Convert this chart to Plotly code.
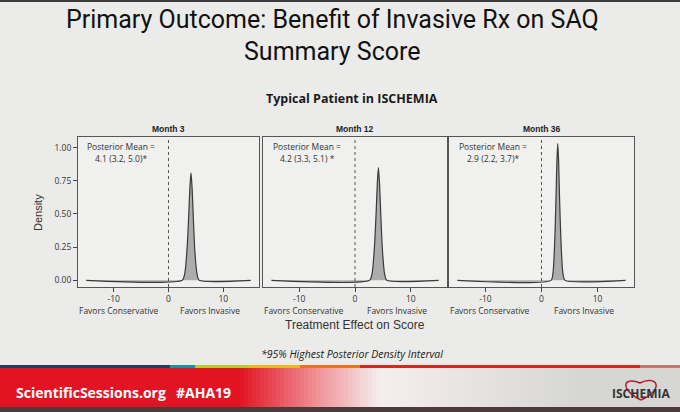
import plotly.graph_objects as go

# ---------------- data ----------------
panel_titles = ["Month 3", "Month 12", "Month 36"]
mean_labels = ["4.1 (3.2, 5.0)*", "4.2 (3.3, 5.1) *", "2.9 (2.2, 3.7)*"]

x_m3 = [-15, 2.5, 3.0, 3.4, 3.7, 3.9, 4.1, 4.3, 4.5, 4.8, 5.2, 5.6, 15]
d_m3 = [0, 0, 0.06, 0.25, 0.50, 0.70, 0.81, 0.70, 0.50, 0.22, 0.05, 0, 0]

x_m12 = [-15, 2.6, 3.1, 3.5, 3.8, 4.0, 4.2, 4.4, 4.6, 4.9, 5.3, 5.7, 15]
d_m12 = [0, 0, 0.06, 0.26, 0.52, 0.73, 0.85, 0.73, 0.52, 0.24, 0.05, 0, 0]

x_m36 = [-15, 1.7, 2.1, 2.4, 2.6, 2.75, 2.9, 3.05, 3.2, 3.45, 3.8, 4.2, 15]
d_m36 = [0, 0, 0.08, 0.34, 0.65, 0.90, 1.03, 0.90, 0.65, 0.32, 0.06, 0, 0]

x_ticks = [-10, 0, 10]
y_ticks = [0.0, 0.25, 0.5, 0.75, 1.0]
y_tick_labels = ["0.00", "0.25", "0.50", "0.75", "1.00"]

series = [(x_m3, d_m3), (x_m12, d_m12), (x_m36, d_m36)]

# ---------------- layout helpers ----------------
W, H = 680, 412
def px(x):
    return x / W
def py(y):
    return 1 - y / H

x_domains = [[px(78), px(259)], [px(263), px(447)], [px(449), px(634)]]
y_domain = [py(287), py(137)]

fig = go.Figure()
BG = "#ebebe9"
PLOT_BG = "#f0f0ee"
FONT_A = "Liberation Sans, Arial, sans-serif"
FONT_C = "Open Sans, Noto Sans, sans-serif"

def note(x, y, text, font, xref="paper", **kw):
    fig.add_annotation(x=x, y=y, xref=xref, yref="paper", text=text, showarrow=False,
                       xanchor=kw.pop("xanchor", "center"), yanchor="middle", font=font, **kw)

for i, (xs, ys) in enumerate(series):
    sfx = "" if i == 0 else str(i + 1)
    fig.add_trace(go.Scatter(
        x=xs, y=ys, mode="lines", line=dict(color="#3a3a3a", width=1.2, shape="spline", smoothing=0.6),
        fill="tozeroy", fillcolor="rgba(150,150,150,0.75)",
        xaxis="x" + sfx, yaxis="y" + sfx, showlegend=False, hoverinfo="skip"))
    fig.update_layout(**{
        "xaxis" + sfx: dict(domain=x_domains[i], range=[-16.5, 16.5], tickvals=x_ticks,
                           ticktext=[str(v) for v in x_ticks], ticks="outside", ticklen=4,
                           tickcolor="#444", showline=True, linecolor="#555", linewidth=1,
                           mirror=True, showgrid=False, zeroline=False,
                           tickfont=dict(family=FONT_C, size=8.5, color="#333"),
                           anchor="y" + sfx),
        "yaxis" + sfx: dict(domain=y_domain, range=[-0.05, 1.08], tickvals=y_ticks,
                           ticktext=y_tick_labels, ticks="outside" if i == 0 else "",
                           ticklen=4, tickcolor="#444", showticklabels=(i == 0),
                           showline=True, linecolor="#555", linewidth=1, mirror=True,
                           showgrid=False, zeroline=False,
                           tickfont=dict(family=FONT_C, size=8.5, color="#333"),
                           anchor="x" + sfx),
    })
    xr = "x" + sfx
    fig.add_shape(type="line", xref=xr, yref="paper", x0=0, x1=0,
                  y0=y_domain[0], y1=y_domain[1],
                  line=dict(color="#555", width=1, dash="dot"))
    note(sum(x_domains[i]) / 2, py(129), "<b>" + panel_titles[i] + "</b>",
         dict(family=FONT_A, size=8.5, color="#222"))
    note(-8.6, py(147), "Posterior Mean =", dict(family=FONT_C, size=8.5, color="#333"), xref=xr)
    note(-8.6, py(159), mean_labels[i], dict(family=FONT_C, size=8.5, color="#333"), xref=xr)
    note(-9.1, py(310), "Favors Conservative", dict(family=FONT_C, size=8.5, color="#333"), xref=xr)
    note(7.5, py(310), "Favors Invasive", dict(family=FONT_C, size=8.5, color="#333"), xref=xr)

for i in range(3):
    fig.add_shape(type="rect", xref="paper", yref="paper", x0=x_domains[i][0], x1=x_domains[i][1],
                  y0=y_domain[0], y1=y_domain[1], fillcolor=PLOT_BG, line=dict(width=0), layer="below")

note(px(38), py(213), "Density", dict(family=FONT_A, size=11, color="#333"), textangle=-90)
note(px(355), py(325), "Treatment Effect on Score", dict(family=FONT_A, size=12, color="#333"))

TFONT = dict(family="Roboto, sans-serif", size=25, color="#111")
note(px(332), py(20), "Primary Outcome: Benefit of Invasive Rx on SAQ", TFONT)
note(px(332), py(52), "Summary Score", TFONT)
note(px(352), py(98), "<b>Typical Patient in ISCHEMIA</b>", dict(family=FONT_C, size=12.5, color="#1a1a1a"))
note(px(352), py(354), "<i>*95% Highest Posterior Density Interval</i>",
     dict(family=FONT_C, size=10.5, color="#222"))

# top dark edge
fig.add_shape(type="rect", xref="paper", yref="paper", x0=0, x1=1, y0=py(2), y1=1,
              fillcolor="#3a3a3a", line=dict(width=0), layer="below")

# footer banner: gradient red -> white -> light gray
def lerp(c1, c2, t):
    return tuple(int(round(a + (b - a) * t)) for a, b in zip(c1, c2))
red = (226, 20, 35)
pink = (240, 150, 155)
white = (245, 238, 238)
gray = (214, 214, 212)
N = 170
for k in range(N):
    x0 = k * W / N
    xc = x0 + W / N / 2
    if xc < 240:
        c = red
    elif xc < 320:
        c = lerp(red, pink, (xc - 240) / 80)
    elif xc < 380:
        c = lerp(pink, white, (xc - 320) / 60)
    else:
        c = lerp(white, gray, min(1, (xc - 380) / 200))
    fig.add_shape(type="rect", xref="paper", yref="paper", x0=px(x0), x1=px(x0 + W / N + 0.5),
                  y0=py(407), y1=py(368), fillcolor="rgb(%d,%d,%d)" % c, line=dict(width=0), layer="below")
strip = [(0, 170, (40, 60, 90)), (170, 195, (40, 140, 150)), (195, 250, (190, 200, 40)),
         (250, 300, (240, 180, 30)), (300, 360, (240, 110, 30)), (360, 640, (215, 40, 30)),
         (640, 680, (190, 120, 110))]
for a, b, c in strip:
    fig.add_shape(type="rect", xref="paper", yref="paper", x0=px(a), x1=px(b), y0=py(368), y1=py(365),
                  fillcolor="rgb(%d,%d,%d)" % c, line=dict(width=0), layer="below")
fig.add_shape(type="rect", xref="paper", yref="paper", x0=0, x1=1, y0=0, y1=py(407),
              fillcolor="#4a3a3a", line=dict(width=0), layer="below")

note(px(14), py(392), "<b>ScientificSessions.org</b>",
     dict(family="Open Sans, sans-serif", size=14, color="white"), xanchor="left")
note(px(174), py(392), "<b>#AHA19</b>",
     dict(family="Open Sans, sans-serif", size=14, color="white"), xanchor="left")
# ISCHEMIA logo
fig.add_shape(type="path", xref="paper", yref="paper",
              path="M %f %f C %f %f %f %f %f %f C %f %f %f %f %f %f" % (
                  px(641), py(400), px(620), py(390), px(622), py(376), px(640), py(383),
                  px(656), py(375), px(666), py(388), px(641), py(400)),
              line=dict(color="#b02030", width=1.5))
note(px(641), py(393), "<b>ISCHEMIA</b>", dict(family="Open Sans, sans-serif", size=12, color="#333"))

fig.update_layout(width=W, height=H, margin=dict(l=0, r=0, t=0, b=0),
                  paper_bgcolor=BG, plot_bgcolor=PLOT_BG)

fig.write_html("out.html", config={"displayModeBar": False},
               post_script="document.body.style.margin='0';document.body.style.overflow='hidden';")
